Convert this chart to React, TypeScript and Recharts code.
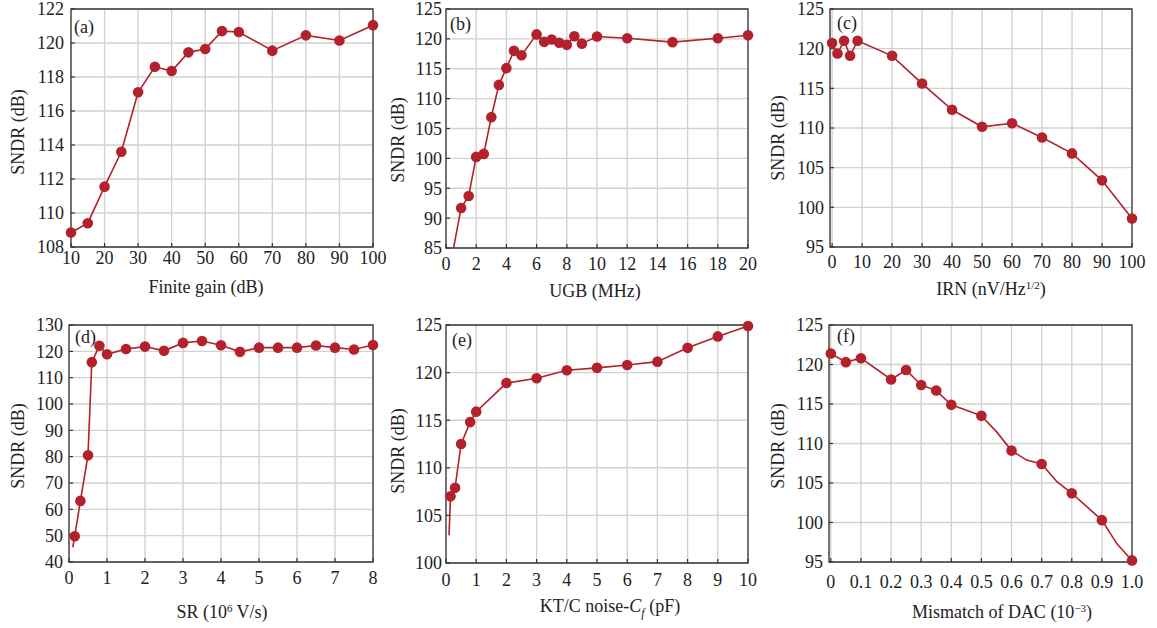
import React from 'react';
import { LineChart, Line, XAxis, YAxis, CartesianGrid, ReferenceArea } from 'recharts';

const W = 1157;
const H = 628;
const RED = '#b3212c';
const FONT = '"Liberation Serif", "Times New Roman", serif';

// (a) finite gain
const gainX = [10, 15, 20, 25, 30, 35, 40, 45, 50, 55, 60, 70, 80, 90, 100];
const gainSndr = [108.85, 109.4, 111.55, 113.6, 117.1, 118.6, 118.35, 119.45, 119.65, 120.7, 120.65, 119.55, 120.45, 120.15, 121.05];
const gainTicksX = [10, 20, 30, 40, 50, 60, 70, 80, 90, 100];
const gainTicksY = [108, 110, 112, 114, 116, 118, 120, 122];

// (b) UGB
const ugbX = [0.5, 1, 1.5, 2, 2.5, 3, 3.5, 4, 4.5, 5, 6, 6.5, 7, 7.5, 8, 8.5, 9, 10, 12, 15, 18, 20];
const ugbSndr = [85, 91.7, 93.7, 100.25, 100.75, 106.9, 112.3, 115.1, 118.0, 117.25, 120.75, 119.5, 119.9, 119.35, 119.0, 120.45, 119.2, 120.4, 120.1, 119.45, 120.1, 120.6];
const ugbPlain = [0.5];
const ugbTicksX = [0, 2, 4, 6, 8, 10, 12, 14, 16, 18, 20];
const ugbTicksY = [85, 90, 95, 100, 105, 110, 115, 120, 125];

// (c) IRN
const irnX = [0, 1.8, 4, 6, 8.5, 20, 30, 40, 50, 60, 70, 80, 90, 100];
const irnSndr = [120.7, 119.4, 121.0, 119.1, 121.0, 119.1, 115.6, 112.3, 110.15, 110.6, 108.8, 106.8, 103.4, 98.6];
const irnTicksX = [0, 10, 20, 30, 40, 50, 60, 70, 80, 90, 100];
const irnTicksY = [95, 100, 105, 110, 115, 120, 125];

// (d) slew rate
const srX = [0.1, 0.15, 0.3, 0.5, 0.6, 0.8, 1, 1.5, 2, 2.5, 3, 3.5, 4, 4.5, 5, 5.5, 6, 6.5, 7, 7.5, 8];
const srSndr = [45.6, 49.8, 63.2, 80.5, 115.9, 122.1, 118.9, 120.9, 121.8, 120.2, 123.2, 123.9, 122.3, 119.8, 121.4, 121.4, 121.4, 122.2, 121.4, 120.7, 122.4];
const srPlain = [0.1];
const srTicksX = [0, 1, 2, 3, 4, 5, 6, 7, 8];
const srTicksY = [40, 50, 60, 70, 80, 90, 100, 110, 120, 130];

// (e) kT/C noise
const ktcX = [0.1, 0.15, 0.3, 0.5, 0.8, 1, 2, 3, 4, 5, 6, 7, 8, 9, 10];
const ktcSndr = [102.9, 107.0, 107.9, 112.5, 114.8, 115.9, 118.9, 119.4, 120.25, 120.5, 120.8, 121.15, 122.6, 123.8, 124.9];
const ktcPlain = [0.1];
const ktcTicksX = [0, 1, 2, 3, 4, 5, 6, 7, 8, 9, 10];
const ktcTicksY = [100, 105, 110, 115, 120, 125];

// (f) DAC mismatch
const dacX = [0, 0.05, 0.1, 0.2, 0.25, 0.3, 0.35, 0.4, 0.45, 0.5, 0.55, 0.6, 0.65, 0.7, 0.75, 0.8, 0.85, 0.9, 0.95, 1.0];
const dacSndr = [121.4, 120.3, 120.8, 118.1, 119.3, 117.4, 116.7, 114.9, 114.2, 113.5, 111.5, 109.1, 107.9, 107.4, 105.2, 103.7, 102.0, 100.3, 97.3, 95.2];
const dacPlain = [0.45, 0.55, 0.65, 0.75, 0.85, 0.95];
const dacTicksX = [0, 0.1, 0.2, 0.3, 0.4, 0.5, 0.6, 0.7, 0.8, 0.9, 1.0];
const dacTicksY = [95, 100, 105, 110, 115, 120, 125];

const sup = (s: string) => (
  <tspan dy={-6} fontSize={11}>{s}</tspan>
);

const panels = [
  {
    tag: '(a)', xs: gainX, ys: gainSndr, plain: [] as number[], tx: gainTicksX, ty: gainTicksY,
    xd: [10, 100], yd: [108, 122], rect: [71, 373, 9, 247], xtm: 8, ytm: 11,
    xl: [206, 293], yl: [18, 132], tagAt: [74, 33],
    xLabel: <>Finite gain (dB)</>,
  },
  {
    tag: '(b)', xs: ugbX, ys: ugbSndr, plain: ugbPlain, tx: ugbTicksX, ty: ugbTicksY,
    xd: [0, 20], yd: [85, 125], rect: [446, 748, 9, 248], xtm: 13, ytm: 8,
    xl: [595, 297], yl: [398, 140], tagAt: [450, 30],
    xLabel: <>UGB (MHz)</>,
  },
  {
    tag: '(c)', xs: irnX, ys: irnSndr, plain: [] as number[], tx: irnTicksX, ty: irnTicksY,
    xd: [-0.7, 100], yd: [95, 125], rect: [830, 1132, 9, 247], xtm: 12, ytm: 10,
    xl: [991, 295], yl: [778, 138], tagAt: [837, 29],
    xLabel: <>IRN (nV/Hz{sup('1/2')}<tspan dy={6}>)</tspan></>,
  },
  {
    tag: '(d)', xs: srX, ys: srSndr, plain: srPlain, tx: srTicksX, ty: srTicksY,
    xd: [0, 8], yd: [40, 130], rect: [69, 373, 325, 562], xtm: 13, ytm: 10,
    xl: [222, 618], yl: [18, 446], tagAt: [75, 343],
    xLabel: <>SR (10{sup('6')}<tspan dy={6}> V/s)</tspan></>,
  },
  {
    tag: '(e)', xs: ktcX, ys: ktcSndr, plain: ktcPlain, tx: ktcTicksX, ty: ktcTicksY,
    xd: [0, 10], yd: [100, 125], rect: [446, 748, 325, 563], xtm: 14, ytm: 8,
    xl: [610, 612], yl: [398, 451], tagAt: [452, 346],
    xLabel: (
      <>
        KT/C noise-<tspan fontStyle="italic">C</tspan>
        <tspan fontStyle="italic" fontSize={12} dy={5}>f</tspan>
        <tspan dy={-5}> (pF)</tspan>
      </>
    ),
  },
  {
    tag: '(f)', xs: dacX, ys: dacSndr, plain: dacPlain, tx: dacTicksX, ty: dacTicksY,
    xd: [-0.006, 1.0], yd: [95, 125], rect: [829, 1132, 325, 562], xtm: 17, ytm: 10,
    xl: [1002, 618], yl: [778, 446], tagAt: [837, 342],
    xLabel: <>Mismatch of DAC (10{sup('\u22123')}<tspan dy={6}>)</tspan></>,
    fmt: (v: number) => (v === 0 ? '0' : v.toFixed(1)),
  },
];

const tickStyle = { fontFamily: FONT, fontSize: 18, fill: '#222' };

function Panel({ p }: { p: (typeof panels)[number] }) {
  const data = p.xs.map((x, i) => ({ x, y: p.ys[i] }));
  const [L, R, T, B] = p.rect;
  const dot = (props: any) => {
    const { cx, cy, payload, index } = props;
    if (p.plain.includes(payload.x)) return <g key={index} />;
    return <circle key={index} cx={cx} cy={cy} r={5.3} fill={RED} />;
  };
  return (
    <div style={{ position: 'absolute', left: 0, top: 0 }}>
      <LineChart
        width={W}
        height={H}
        data={data}
        margin={{ left: L - 60, right: W - R, top: T, bottom: H - B - 60 }}
      >
        <CartesianGrid stroke="#d2d2d2" strokeWidth={1.4} />
        <XAxis
          dataKey="x"
          type="number"
          domain={p.xd}
          ticks={p.tx}
          height={60}
          axisLine={false}
          tickSize={-4}
          tickMargin={p.xtm}
          tickLine={{ stroke: '#333', strokeWidth: 1.2 }}
          tick={tickStyle}
          tickFormatter={(p as any).fmt}
          interval={0}
          label={{
            content: () => (
              <text x={p.xl[0]} y={p.xl[1]} textAnchor="middle" fontFamily={FONT} fontSize={18} fill="#222">
                {p.xLabel}
              </text>
            ),
          }}
        />
        <YAxis
          dataKey="y"
          type="number"
          domain={p.yd}
          ticks={p.ty}
          width={60}
          axisLine={false}
          tickSize={-4}
          tickMargin={p.ytm}
          tickLine={{ stroke: '#333', strokeWidth: 1.2 }}
          tick={tickStyle}
          interval={0}
          label={{
            content: () => (
              <g>
                <text
                  x={p.yl[0]}
                  y={p.yl[1]}
                  transform={`rotate(-90 ${p.yl[0]} ${p.yl[1]})`}
                  textAnchor="middle"
                  dominantBaseline="central"
                  fontFamily={FONT}
                  fontSize={18}
                  fill="#222"
                >
                  SNDR (dB)
                </text>
                <text x={p.tagAt[0]} y={p.tagAt[1]} fontFamily={FONT} fontSize={18} fill="#222">
                  {p.tag}
                </text>
              </g>
            ),
          }}
        />
        <ReferenceArea
          x1={p.xd[0]}
          x2={p.xd[1]}
          y1={p.yd[0]}
          y2={p.yd[1]}
          fill="none"
          fillOpacity={0}
          stroke="#3a3a3a"
          strokeWidth={1.3}
          ifOverflow="visible"
        />
        <Line
          type="linear"
          dataKey="y"
          stroke={RED}
          strokeWidth={1.6}
          dot={dot}
          activeDot={false}
          isAnimationActive={false}
        />
      </LineChart>
    </div>
  );
}

export default function App() {
  return (
    <div style={{ position: 'absolute', left: 0, top: 0, width: W, height: H, background: '#fff' }}>
      {panels.map((p) => (
        <Panel key={p.tag} p={p} />
      ))}
    </div>
  );
}
